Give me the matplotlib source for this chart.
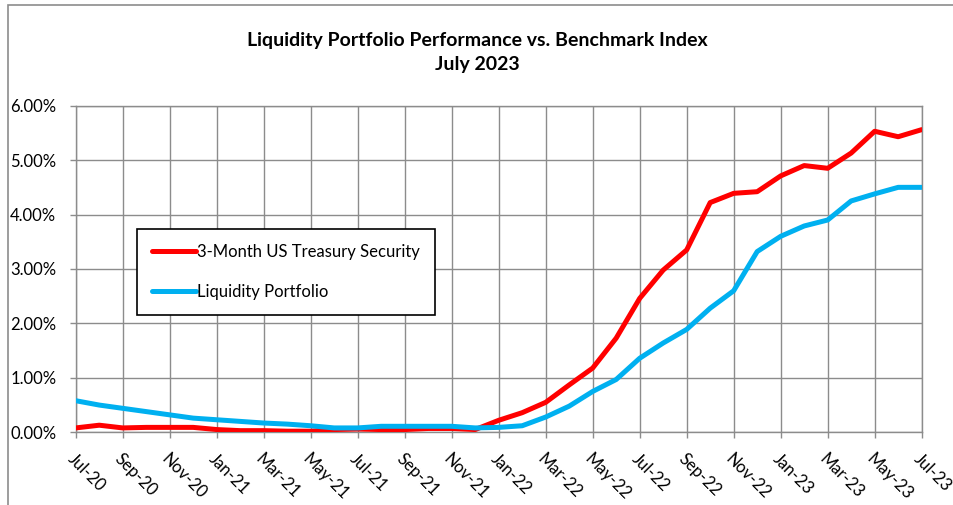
import pandas as pd
import matplotlib.pyplot as plt
from matplotlib.patches import Rectangle

plt.rcParams['font.family'] = ['Lato', 'DejaVu Sans']

# monthly series, Jul-20 .. Jul-23 (values in %)
months = pd.date_range('2020-07-01', '2023-07-01', freq='MS')
treasury = [0.08, 0.13, 0.08, 0.09, 0.09, 0.09, 0.05, 0.03, 0.03, 0.02,
            0.02, 0.05, 0.06, 0.05, 0.05, 0.07, 0.07, 0.05, 0.22, 0.36,
            0.55, 0.87, 1.18, 1.73, 2.46, 2.98, 3.35, 4.22, 4.39, 4.42,
            4.71, 4.90, 4.85, 5.13, 5.53, 5.43, 5.56]
portfolio = [0.58, 0.50, 0.44, 0.38, 0.32, 0.26, 0.23, 0.20, 0.17, 0.15,
             0.12, 0.08, 0.08, 0.11, 0.11, 0.11, 0.11, 0.08, 0.09, 0.12,
             0.28, 0.48, 0.75, 0.97, 1.36, 1.64, 1.89, 2.28, 2.60, 3.32,
             3.60, 3.79, 3.90, 4.25, 4.38, 4.50, 4.50]
tick_labels = ['Jul-20', 'Sep-20', 'Nov-20', 'Jan-21', 'Mar-21', 'May-21',
               'Jul-21', 'Sep-21', 'Nov-21', 'Jan-22', 'Mar-22', 'May-22',
               'Jul-22', 'Sep-22', 'Nov-22', 'Jan-23', 'Mar-23', 'May-23',
               'Jul-23']
y_ticks = [0, 1, 2, 3, 4, 5, 6]

x = list(range(len(months)))

fig = plt.figure(figsize=(9.54, 5.05), dpi=100)
ax = fig.add_axes([0.0794, 0.144, 0.8867, 0.6467])

ax.plot(x, treasury, color='#FF0000', lw=3.6, label='3-Month US Treasury Security',
        solid_joinstyle='round', solid_capstyle='round', zorder=3)
ax.plot(x, portfolio, color='#00B0F0', lw=3.6, label='Liquidity Portfolio',
        solid_joinstyle='round', solid_capstyle='round', zorder=3)

ax.set_xlim(0, len(months) - 1)
ax.set_ylim(0, 6)
ax.set_xticks(x[::2])
ax.set_xticklabels(tick_labels, rotation=-45, ha='left', va='top',
                   rotation_mode='anchor', fontsize=12)
ax.set_yticks(y_ticks)
ax.set_yticklabels([f'{v:.2f}%' for v in y_ticks], fontsize=12)
ax.tick_params(axis='both', length=4, width=1, color='#8C8C8C')
ax.tick_params(axis='y', pad=10)
ax.tick_params(axis='x', pad=9)

ax.grid(True, color='#8C8C8C', lw=1)
for s in ax.spines.values():
    s.set_color('#8C8C8C')
    s.set_linewidth(1)

fig.text(0.5, 0.896, 'Liquidity Portfolio Performance vs. Benchmark Index\nJuly 2023',
         ha='center', va='center', fontsize=14, fontweight='bold', linespacing=1.5)

leg = ax.legend(loc='upper left', bbox_to_anchor=(137.3 / 954, 1 - 229.3 / 505),
                bbox_transform=fig.transFigure, borderaxespad=0, fancybox=False,
                edgecolor='black', framealpha=1, fontsize=12, handlelength=2.6,
                handletextpad=0.1, labelspacing=1.4, borderpad=0.9)
leg.get_frame().set_linewidth(1.2)

# outer chart border (left and top edges visible)
fig.patches.append(Rectangle((8 / 954, -0.1), 1.2, 1 - 5 / 505 + 0.1,
                             transform=fig.transFigure, fill=False,
                             edgecolor='#8C8C8C', lw=1.2))

fig.savefig('out.png', dpi=100)
